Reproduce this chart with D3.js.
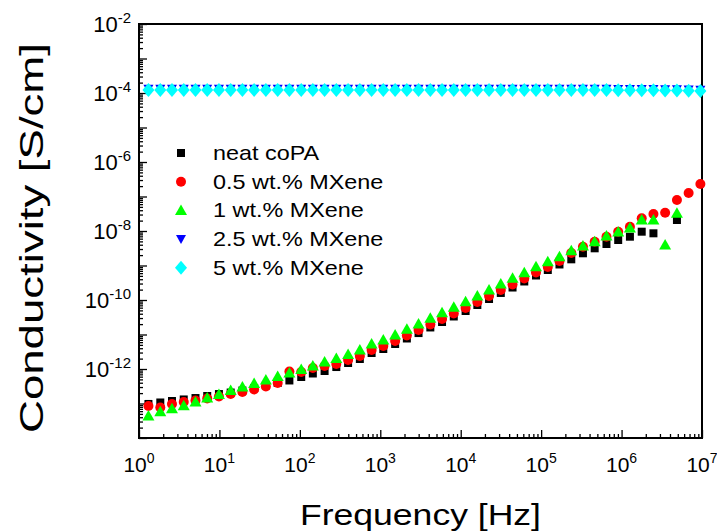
<!DOCTYPE html>
<html>
<head>
<meta charset="utf-8">
<script src="https://cdn.jsdelivr.net/npm/d3@7"></script>
<style>
  body { margin: 0; background: #fff; }
  text { font-family: "Liberation Sans", Arial, sans-serif; fill: #000; }
</style>
</head>
<body>
<script>
// DATA

var freq = [1.31, 1.84, 2.57, 3.60, 5.04, 7.05, 9.86, 13.8, 19.3, 27.0, 37.8, 53.0,
  74.1, 104, 145, 203, 284, 398, 557, 780, 1090, 1530, 2140, 2990,
  4190, 5860, 8200, 11500, 16100, 22500, 31500, 44100, 61700, 86300, 121000, 169000,
  237000, 331000, 463000, 649000, 908000, 1270000, 1780000, 2490000, 3480000, 4880000, 6820000, 9550000];

var neatCoPA = [9.7e-14, 1.07e-13, 1.18e-13, 1.31e-13, 1.44e-13, 1.65e-13, 1.88e-13, 2.08e-13, 2.38e-13, 2.81e-13, 3.33e-13, 3.93e-13,
  4.65e-13, 5.86e-13, 7.41e-13, 8.75e-13, 1.14e-12, 1.49e-12, 1.95e-12, 2.91e-12, 3.80e-12, 5.31e-12, 7.66e-12, 1.10e-11,
  1.60e-11, 2.30e-11, 3.33e-11, 4.80e-11, 7.16e-11, 1.07e-10, 1.60e-10, 2.30e-10, 3.44e-10, 5.13e-10, 7.41e-10, 1.07e-9,
  1.51e-9, 2.26e-9, 3.15e-9, 4.20e-9, 5.48e-9, 6.84e-9, 9.55e-9, 8.57e-9, null, 2.08e-8, null, null];

var mx05 = [8.5e-14, 7.7e-14, 9.7e-14, 1.10e-13, 1.22e-13, 1.40e-13, 1.60e-13, 1.88e-13, 2.15e-13, 2.55e-13, 3.11e-13, 3.93e-13,
  8.5e-13, 8.2e-13, 1.07e-12, 1.22e-12, 1.40e-12, 1.82e-12, 2.38e-12, 3.56e-12, 4.65e-12, 6.48e-12, 9.35e-12, 1.35e-11,
  1.95e-11, 2.81e-11, 4.06e-11, 5.86e-11, 8.75e-11, 1.31e-10, 1.95e-10, 2.81e-10, 4.20e-10, 6.27e-10, 9.05e-10, 1.35e-9,
  2.30e-9, 3.51e-9, 4.90e-9, 6.84e-9, 9.55e-9, 1.33e-8, 2.33e-8, 3.11e-8, 3.39e-8, 7.92e-8, 1.26e-7, 2.30e-7];

var mx1 = [4.35e-14, 5.78e-14, 7.06e-14, 8.63e-14, 1.10e-13, 1.44e-13, 1.82e-13, 2.38e-13, 3.01e-13, 3.80e-13, 4.80e-13, 6.07e-13,
  7.66e-13, 9.68e-13, 1.22e-12, 1.60e-12, 2.01e-12, 2.63e-12, 3.56e-12, 5.31e-12, 6.93e-12, 9.68e-12, 1.42e-11, 2.01e-11,
  2.95e-11, 4.29e-11, 6.14e-11, 8.93e-11, 1.31e-10, 1.95e-10, 2.91e-10, 4.26e-10, 6.18e-10, 9.23e-10, 1.29e-9, 1.80e-9,
  2.69e-9, 3.67e-9, 4.90e-9, 7.16e-9, 9.35e-9, 1.22e-8, 2.08e-8, 2.08e-8, 3.93e-9, 3.26e-8, null, null];

var mx25 = [1.32e-4, 1.32e-4, 1.32e-4, 1.32e-4, 1.32e-4, 1.32e-4, 1.32e-4, 1.32e-4, 1.32e-4, 1.32e-4, 1.32e-4, 1.32e-4,
  1.32e-4, 1.32e-4, 1.32e-4, 1.32e-4, 1.32e-4, 1.32e-4, 1.32e-4, 1.32e-4, 1.32e-4, 1.32e-4, 1.32e-4, 1.32e-4,
  1.32e-4, 1.32e-4, 1.32e-4, 1.32e-4, 1.32e-4, 1.32e-4, 1.32e-4, 1.32e-4, 1.32e-4, 1.32e-4, 1.32e-4, 1.32e-4,
  1.32e-4, 1.32e-4, 1.32e-4, 1.32e-4, 1.31e-4, 1.31e-4, 1.30e-4, 1.30e-4, 1.29e-4, 1.28e-4, 1.27e-4, 1.25e-4];

var mx5 = [1.22e-4, 1.22e-4, 1.22e-4, 1.22e-4, 1.22e-4, 1.22e-4, 1.22e-4, 1.22e-4, 1.22e-4, 1.22e-4, 1.22e-4, 1.22e-4,
  1.22e-4, 1.22e-4, 1.22e-4, 1.22e-4, 1.22e-4, 1.22e-4, 1.22e-4, 1.22e-4, 1.22e-4, 1.22e-4, 1.22e-4, 1.22e-4,
  1.22e-4, 1.22e-4, 1.22e-4, 1.22e-4, 1.22e-4, 1.22e-4, 1.22e-4, 1.22e-4, 1.22e-4, 1.22e-4, 1.22e-4, 1.22e-4,
  1.22e-4, 1.22e-4, 1.22e-4, 1.22e-4, 1.21e-4, 1.21e-4, 1.20e-4, 1.20e-4, 1.19e-4, 1.18e-4, 1.17e-4, 1.15e-4];

var seriesNames = ["neat coPA", "0.5 wt.% MXene", "1 wt.% MXene", "2.5 wt.% MXene", "5 wt.% MXene"];
var seriesValues = [neatCoPA, mx05, mx1, mx25, mx5];
var seriesColors = ["#000000", "#ff0000", "#00ff00", "#0000ff", "#00ffff"];

var xTickExps = [0, 1, 2, 3, 4, 5, 6, 7];
var yTickExps = [-2, -4, -6, -8, -10, -12];

// CHART STRUCTURE

var svgWidth = 717;
var svgHeight = 531;
var margin = {top: 24, right: 15, bottom: 93, left: 139};
var chartWidth = svgWidth - margin.left - margin.right;
var chartHeight = svgHeight - margin.top - margin.bottom;

var svg = d3.select("body")
  .append("svg")
  .attr("width", svgWidth)
  .attr("height", svgHeight);

var chartGroup = svg.append("g")
  .attr("transform", `translate(${margin.left}, ${margin.top})`);

// SCALES

var xScale = d3.scaleLog().domain([1, 1e7]).range([0, chartWidth]);
var yScale = d3.scaleLog().domain([1e-14, 1e-2]).range([chartHeight, 0]);

// MINOR / MAJOR TICK VALUES

function decadeTicks(lo, hi) {
  var major = [], minor = [];
  for (var e = lo; e <= hi; e++) {
    major.push(Math.pow(10, e));
    if (e < hi) for (var m = 2; m <= 9; m++) minor.push(m * Math.pow(10, e));
  }
  return {major: major, minor: minor};
}
var xt = decadeTicks(0, 7);
var yt = decadeTicks(-14, -2);

// AXES (ticks point inward)

chartGroup.append("g")
  .attr("transform", `translate(0, ${chartHeight})`)
  .call(d3.axisBottom(xScale).tickValues(xt.minor).tickSize(-4).tickFormat(""));

chartGroup.append("g")
  .attr("transform", `translate(0, ${chartHeight})`)
  .call(d3.axisBottom(xScale).tickValues(xt.major).tickSize(-8).tickFormat(""));

chartGroup.append("g")
  .call(d3.axisLeft(yScale).tickValues(yt.minor).tickSize(-4).tickFormat(""));

chartGroup.append("g")
  .call(d3.axisLeft(yScale).tickValues(yt.major).tickSize(-8).tickFormat(""));

chartGroup.selectAll(".tick line").attr("stroke", "#000").attr("stroke-width", 1.3);
chartGroup.selectAll(".domain").remove();

// FRAME

chartGroup.append("rect")
  .attr("width", chartWidth)
  .attr("height", chartHeight)
  .attr("fill", "none")
  .attr("stroke", "#000")
  .attr("stroke-width", 2);

// TICK LABELS

var xLabels = chartGroup.selectAll(".xlab")
  .data(xTickExps)
  .enter()
  .append("text")
  .attr("class", "xlab")
  .attr("x", d => xScale(Math.pow(10, d)))
  .attr("y", chartHeight + 34)
  .attr("text-anchor", "middle")
  .style("font-size", "21px");
xLabels.append("tspan").text("10");
xLabels.append("tspan").attr("dy", -9).style("font-size", "14px").text(d => d);

var yLabels = chartGroup.selectAll(".ylab")
  .data(yTickExps)
  .enter()
  .append("text")
  .attr("class", "ylab")
  .attr("x", -8)
  .attr("y", d => yScale(Math.pow(10, d)) + 8)
  .attr("text-anchor", "end")
  .style("font-size", "22px");
yLabels.append("tspan").text("10");
yLabels.append("tspan").attr("dy", -9).style("font-size", "15px").text(d => d);

// AXIS TITLES

svg.append("text")
  .attr("x", margin.left + chartWidth / 2)
  .attr("y", 525)
  .attr("text-anchor", "middle")
  .attr("textLength", 241)
  .attr("lengthAdjust", "spacingAndGlyphs")
  .style("font-size", "29px")
  .text("Frequency [Hz]");

svg.append("text")
  .attr("transform", "translate(43, 238) rotate(-90)")
  .attr("text-anchor", "middle")
  .attr("textLength", 390)
  .attr("lengthAdjust", "spacingAndGlyphs")
  .style("font-size", "34px")
  .text("Conductivity [S/cm]");

// MARKER SHAPES

var shapes = [
  {draw: function(c) { c.moveTo(-4, -4); c.lineTo(4, -4); c.lineTo(4, 4); c.lineTo(-4, 4); c.closePath(); }},
  {draw: function(c) { c.moveTo(5, 0); c.arc(0, 0, 5, 0, 2 * Math.PI); c.closePath(); }},
  {draw: function(c) { c.moveTo(0, -6); c.lineTo(6, 4.5); c.lineTo(-6, 4.5); c.closePath(); }},
  {draw: function(c) { c.moveTo(0, 5); c.lineTo(5, -4); c.lineTo(-5, -4); c.closePath(); }},
  {draw: function(c) { c.moveTo(0, -7); c.lineTo(6, 0); c.lineTo(0, 7); c.lineTo(-6, 0); c.closePath(); }}
];

// POINTS

seriesValues.forEach(function(vals, s) {
  var pts = freq.map((f, i) => ({f: f, v: vals[i]})).filter(d => d.v != null);
  chartGroup.append("g")
    .selectAll("path")
    .data(pts)
    .enter()
    .append("path")
    .attr("d", d3.symbol().type(shapes[s]))
    .attr("transform", d => `translate(${xScale(d.f)}, ${yScale(d.v)})`)
    .attr("fill", seriesColors[s]);
});

// LEGEND

var legend = svg.append("g").attr("transform", "translate(181, 153)");
seriesNames.forEach(function(name, s) {
  var row = legend.append("g").attr("transform", `translate(0, ${s * 28.7})`);
  row.append("path")
    .attr("d", d3.symbol().type(shapes[s]))
    .attr("fill", seriesColors[s]);
  row.append("text")
    .attr("transform", "translate(32, 7) scale(1.17, 1)")
    .style("font-size", "20px")
    .text(name);
});
</script>
</body>
</html>
